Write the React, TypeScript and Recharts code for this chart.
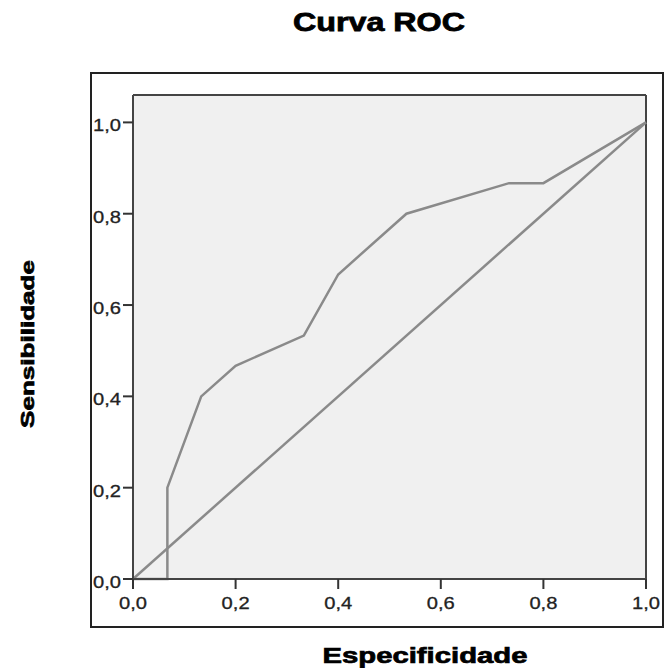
import React from "react"
import { CartesianGrid, Line, LineChart, ReferenceLine, XAxis, YAxis } from "recharts"

// ROC curve (1 - specificity on x, sensitivity on y)
const rocX = [0, 0.067, 0.067, 0.133, 0.2, 0.333, 0.4, 0.533, 0.733, 0.8, 1.0]
const rocY = [0, 0, 0.2, 0.4, 0.467, 0.533, 0.667, 0.8, 0.867, 0.867, 1.0]

// reference (chance) line
const chanceX = [0, 1]
const chanceY = [0, 1]

const ticks = [0, 0.2, 0.4, 0.6, 0.8, 1.0]
const tickLabels = ["0,0", "0,2", "0,4", "0,6", "0,8", "1,0"]

const rocData = rocX.map((x, i) => ({ x, y: rocY[i] }))
const chanceData = chanceX.map((x, i) => ({ x, y: chanceY[i] }))

const font = "'Liberation Sans', Arial, sans-serif"

function label(v: number) {
  const i = ticks.findIndex((t) => Math.abs(t - v) < 1e-6)
  return i >= 0 ? tickLabels[i] : String(v)
}

function YTick(props: any) {
  const { x, y, payload } = props
  return (
    <text
      x={x}
      y={y + 9}
      textAnchor="end"
      fontSize={17}
      fontFamily={font}
      fill="#222"
      stroke="#222"
      strokeWidth={0.3}
      textLength={28}
      lengthAdjust="spacingAndGlyphs">
      {label(payload.value)}
    </text>
  )
}

function XTick(props: any) {
  const { x, y, payload } = props
  return (
    <text
      x={x}
      y={y + 16}
      textAnchor="middle"
      fontSize={17}
      fontFamily={font}
      fill="#222"
      stroke="#222"
      strokeWidth={0.3}
      textLength={28}
      lengthAdjust="spacingAndGlyphs">
      {label(payload.value)}
    </text>
  )
}

export default function App() {
  return (
    <div style={{ position: "absolute", left: 0, top: 0, width: 672, height: 668, background: "#fff" }}>
      <svg
        width={672}
        height={668}
        style={{ position: "absolute", left: 0, top: 0, pointerEvents: "none" }}>
        <rect x={91} y={73} width={572} height={554} fill="none" stroke="#222" strokeWidth={2} />
        <text
          x={379}
          y={31}
          textAnchor="middle"
          fontSize={25}
          fontWeight="bold"
          fontFamily={font}
          fill="#000"
          stroke="#000"
          strokeWidth={0.8}
          textLength={172}
          lengthAdjust="spacingAndGlyphs">
          Curva ROC
        </text>
        <text
          x={425}
          y={663}
          textAnchor="middle"
          fontSize={22}
          fontWeight="bold"
          fontFamily={font}
          fill="#000"
          stroke="#000"
          strokeWidth={0.7}
          textLength={205}
          lengthAdjust="spacingAndGlyphs">
          Especificidade
        </text>
        <text
          transform="translate(34 344) rotate(-90)"
          x={0}
          y={0}
          textAnchor="middle"
          fontSize={19}
          fontWeight="bold"
          fontFamily={font}
          fill="#000"
          stroke="#000"
          strokeWidth={0.7}
          textLength={168}
          lengthAdjust="spacingAndGlyphs">
          Sensibilidade
        </text>
      </svg>
      <div style={{ position: "absolute", left: 0, top: 0 }}>
        <LineChart
          width={672}
          height={668}
          margin={{ top: 95, right: 26, bottom: 41, left: 91 }}>
          <CartesianGrid fill="#f0f0f0" stroke="none" />
          <XAxis
            dataKey="x"
            type="number"
            domain={[0, 1]}
            ticks={ticks}
            height={48}
            tickSize={10}
            tickMargin={4}
            tick={<XTick />}
            axisLine={{ stroke: "#444", strokeWidth: 2 }}
            tickLine={{ stroke: "#333", strokeWidth: 2 }}
          />
          <YAxis
            dataKey="y"
            type="number"
            domain={[0, 1.06]}
            ticks={ticks}
            width={42}
            tickSize={10}
            tickMargin={2}
            tick={<YTick />}
            axisLine={{ stroke: "#444", strokeWidth: 2 }}
            tickLine={{ stroke: "#333", strokeWidth: 2 }}
          />
          <ReferenceLine y={1.06} stroke="#444" strokeWidth={2} />
          <ReferenceLine x={1} stroke="#444" strokeWidth={2} />
          <Line
            data={chanceData}
            dataKey="y"
            type="linear"
            stroke="#8a8a8a"
            strokeWidth={2.5}
            dot={false}
            isAnimationActive={false}
          />
          <Line
            data={rocData}
            dataKey="y"
            type="linear"
            stroke="#8a8a8a"
            strokeWidth={2.5}
            dot={false}
            isAnimationActive={false}
          />
        </LineChart>
      </div>
    </div>
  )
}
